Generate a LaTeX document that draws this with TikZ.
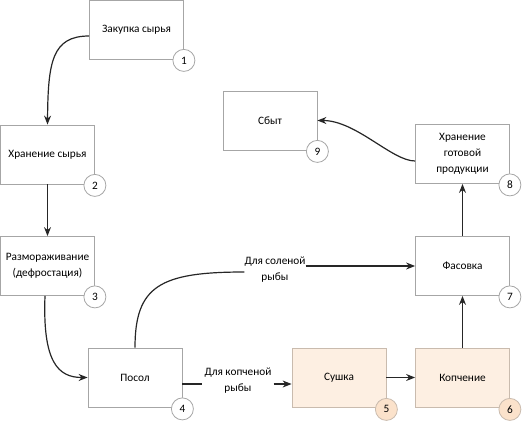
\documentclass[tikz,border=0pt]{standalone}
\usepackage{fontspec}
\setmainfont{Carlito}
\usetikzlibrary{arrows.meta}
\definecolor{boxline}{HTML}{A6A6A6}
\definecolor{peachfill}{HTML}{FDEFE2}
\definecolor{peachcirc}{HTML}{FBE2CB}
\definecolor{peachline}{HTML}{C9BBAE}
\definecolor{arrowcol}{HTML}{262626}
\tikzset{
  stepbox/.style={draw=boxline, line width=0.8pt, fill=white, minimum width=94pt, minimum height=59pt, inner sep=2pt, align=center, font=\fontsize{11.3}{16}\selectfont},
  peachbox/.style={stepbox, fill=peachfill, draw=peachline},
  numcirc/.style={circle, draw=boxline, line width=0.8pt, fill=white, minimum size=22pt, inner sep=0pt, font=\fontsize{11.3}{13}\selectfont},
  peachcircle/.style={numcirc, fill=peachcirc, draw=peachline},
  conn/.style={draw=arrowcol, line width=1.2pt, -{Stealth[length=9pt,width=7pt]}},
  plain/.style={draw=arrowcol, line width=1.2pt},
  lbl/.style={align=center, inner sep=1pt, font=\fontsize{11.3}{16}\selectfont}
}
\begin{document}
\begin{tikzpicture}[x=1pt,y=-1pt]
\useasboundingbox (0,0) rectangle (522,423);
% boxes
\node[stepbox] (b1) at (136.5,29.5) {Закупка сырья};
\node[stepbox] (b2) at (47.5,154.5) {Хранение сырья};
\node[stepbox] (b3) at (47.5,266) {Размораживание\\(дефростация)};
\node[stepbox] (b4) at (135,377.5) {Посол};
\node[peachbox] (b5) at (339,377.5) {Сушка};
\node[peachbox] (b6) at (462.5,377.5) {Копчение};
\node[stepbox] (b7) at (462.5,266) {Фасовка};
\node[stepbox] (b8) at (462.5,154) {Хранение\\готовой\\продукции};
\node[stepbox] (b9) at (270,120.5) {Сбыт};
% number circles
\node[numcirc] (c1) at ([yshift=-1pt]b1.south east) {1};
\node[numcirc] (c2) at ([yshift=-1pt]b2.south east) {2};
\node[numcirc] (c3) at ([yshift=-1pt]b3.south east) {3};
\node[numcirc] (c4) at ([yshift=-1.5pt]b4.south east) {4};
\node[peachcircle] (c5) at ([yshift=-2pt]b5.south east) {5};
\node[peachcircle] (c6) at ([yshift=-2pt]b6.south east) {6};
\node[numcirc] (c7) at ([yshift=-1pt]b7.south east) {7};
\node[numcirc] (c8) at ([yshift=-1pt]b8.south east) {8};
\node[numcirc] (c9) at ([yshift=-1pt]b9.south east) {9};
% labels
\node[lbl] (l1) at (275,270) {Для соленой\\рыбы};
\node[lbl] (l2) at (238,381) {Для копченой\\рыбы};
% connectors
\draw[conn] ([yshift=-6.5pt]b1.west) .. controls (52,36) and (48,62) .. (b2.north);
\draw[conn] (b2.south) -- (b3.north);
\draw[conn] ([xshift=-2.5pt]b3.south) .. controls (42.5,362) and (58,377.5) .. (b4.west);
\draw[plain] (b4.north) .. controls (135,286) and (160,272) .. ([xshift=1pt,yshift=-2pt]l1.west);
\draw[conn] ([xshift=-1pt]l1.east |- b7.west) -- (b7.west);
\draw[plain] ([yshift=-6.5pt]b4.east) -- ([xshift=-1pt,yshift=-3pt]l2.west);
\draw[conn] ([xshift=1pt,yshift=-3pt]l2.east) -- ([yshift=-6.5pt]b5.west);
\draw[conn] (b5.east) -- (b6.west);
\draw[conn] (b6.north) -- (b7.south);
\draw[conn] (b7.north) -- (b8.south);
\draw[conn] ([yshift=-7pt]b8.west) .. controls (392,161) and (356,120.5) .. (b9.east);
\end{tikzpicture}
\end{document}
